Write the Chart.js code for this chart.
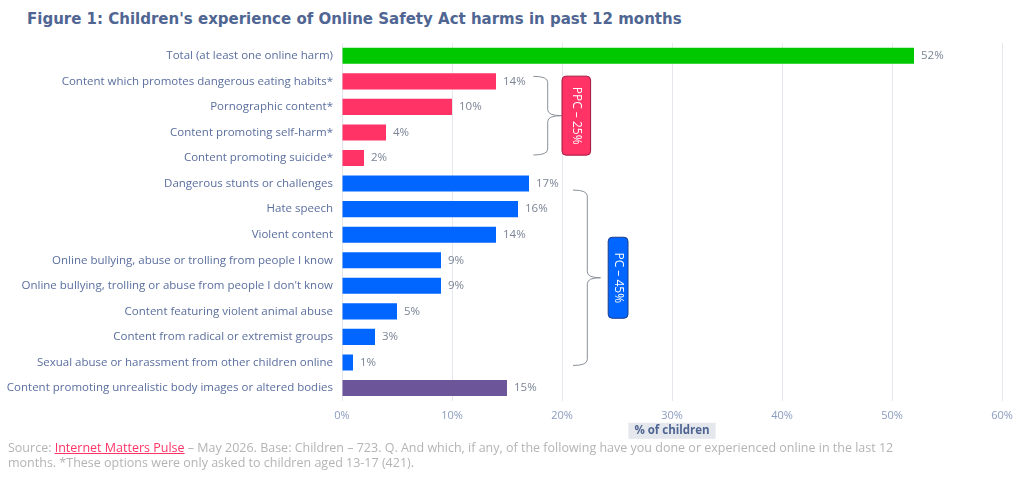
<!DOCTYPE html>
<html>
<head>
<meta charset="utf-8">
<script src="https://cdn.jsdelivr.net/npm/chart.js@4"></script>
<style>
  body { margin: 0; background: #fff; width: 1024px; height: 481px; overflow: hidden; position: relative; }
  #title { position: absolute; left: 27px; top: 10px; font: bold 15px "DejaVu Sans", sans-serif; color: #4f6592; white-space: nowrap; }
  #wrap { position: absolute; left: 0; top: 0; width: 1024px; height: 481px; }
  #source { position: absolute; left: 8px; top: 440px; font: 12.5px "Open Sans", sans-serif; color: #b4b4b4; line-height: 15px; white-space: nowrap; }
  #source a { color: #ff3366; text-decoration: underline; }
</style>
</head>
<body>
<div id="title">Figure 1: Children's experience of Online Safety Act harms in past 12 months</div>
<div id="wrap"><canvas id="harms"></canvas></div>
<div id="source">Source: <a>Internet Matters Pulse</a> – May 2026. Base: Children – 723. Q. And which, if any, of the following have you done or experienced online in the last 12<br>months. *These options were only asked to children aged 13-17 (421).</div>
<script>
/* --------------- Data --------------------- */
const categories = [
  "Total (at least one online harm)",
  "Content which promotes dangerous eating habits*",
  "Pornographic content*",
  "Content promoting self-harm*",
  "Content promoting suicide*",
  "Dangerous stunts or challenges",
  "Hate speech",
  "Violent content",
  "Online bullying, abuse or trolling from people I know",
  "Online bullying, trolling or abuse from people I don't know",
  "Content featuring violent animal abuse",
  "Content from radical or extremist groups",
  "Sexual abuse or harassment from other children online",
  "Content promoting unrealistic body images or altered bodies",
];
const values = [52, 14, 10, 4, 2, 17, 16, 14, 9, 9, 5, 3, 1, 15];
const groups = ["total", "ppc", "ppc", "ppc", "ppc", "pc", "pc", "pc", "pc", "pc", "pc", "pc", "pc", "body"];
const xTicks = [0, 10, 20, 30, 40, 50, 60];
// bracketed groups: first row, last row, label
const braces = [
  { from: 1, to: 4, label: "PPC – 25%" },
  { from: 5, to: 12, label: "PC – 45%" },
];

/* --------------- Styles --------------------- */
const groupColors = { total: "#00c800", ppc: "#ff3366", pc: "#0066ff", body: "#6c5598" };
const braceStyle = [
  { xL: 17.4, xM: 18.7, xR: 19.95, top: -5, bot: -3, boxL: 20.0, boxR: 22.6, boxH: 79, fill: "#ff3366", stroke: "#a3173f" },
  { xL: 21.0, xM: 22.3, xR: 23.5, top: 6.5, bot: 3, boxL: 24.2, boxR: 26.0, boxH: 81, fill: "#0066ff", stroke: "#1a3c8a" },
];

/* --------------- Extras drawn on top --------------------- */
const extras = {
  id: "extras",
  afterDatasetsDraw(chart) {
    const ctx = chart.ctx;
    const x = chart.scales.x, y = chart.scales.y;
    ctx.save();
    // value labels
    ctx.font = '11.5px "Open Sans", sans-serif';
    ctx.fillStyle = "#7b8496";
    ctx.textBaseline = "middle";
    ctx.textAlign = "left";
    chart.getDatasetMeta(0).data.forEach((bar, i) => {
      ctx.fillText(values[i] + "%", bar.x + 7, bar.y);
    });
    // braces and boxes
    braces.forEach((b, i) => {
      const s = braceStyle[i];
      const xL = x.getPixelForValue(s.xL), xM = x.getPixelForValue(s.xM), xR = x.getPixelForValue(s.xR);
      const yT = y.getPixelForValue(b.from) + s.top, yB = y.getPixelForValue(b.to) + s.bot;
      const yM = (yT + yB) / 2, r = 6;
      ctx.beginPath();
      ctx.moveTo(xL, yT);
      ctx.quadraticCurveTo(xM, yT, xM, yT + r);
      ctx.lineTo(xM, yM - r);
      ctx.quadraticCurveTo(xM, yM, xR, yM);
      ctx.quadraticCurveTo(xM, yM, xM, yM + r);
      ctx.lineTo(xM, yB - r);
      ctx.quadraticCurveTo(xM, yB, xL, yB);
      ctx.strokeStyle = "#8a8f99";
      ctx.lineWidth = 1;
      ctx.stroke();
      const bx = x.getPixelForValue(s.boxL), bw = x.getPixelForValue(s.boxR) - bx;
      ctx.beginPath();
      ctx.roundRect(bx, yM - s.boxH / 2, bw, s.boxH, 4);
      ctx.fillStyle = s.fill;
      ctx.fill();
      ctx.strokeStyle = s.stroke;
      ctx.stroke();
      ctx.translate(bx + bw / 2, yM);
      ctx.rotate(Math.PI / 2);
      ctx.fillStyle = "#ffffff";
      ctx.font = '12px "Open Sans", sans-serif';
      ctx.textAlign = "center";
      ctx.fillText(b.label, 0, 0);
      ctx.setTransform(1, 0, 0, 1, 0, 0);
      ctx.scale(chart.currentDevicePixelRatio, chart.currentDevicePixelRatio);
    });
    // x axis title with grey box
    const cx = (chart.chartArea.left + chart.chartArea.right) / 2;
    const ty = chart.chartArea.bottom + 30;
    ctx.font = 'bold 11.5px "Open Sans", sans-serif';
    const tw = ctx.measureText("% of children").width;
    ctx.fillStyle = "#e4e7ec";
    ctx.fillRect(cx - tw / 2 - 6, ty - 8, tw + 12, 16);
    ctx.fillStyle = "#4f6592";
    ctx.textAlign = "center";
    ctx.fillText("% of children", cx, ty);
    ctx.restore();
  },
};

/* --------------- Chart --------------------- */
new Chart(document.getElementById("harms"), {
  type: "bar",
  plugins: [extras],
  data: {
    labels: categories,
    datasets: [{
      data: values,
      backgroundColor: groups.map((g) => groupColors[g]),
      barPercentage: 0.63,
      categoryPercentage: 1,
    }],
  },
  options: {
    indexAxis: "y",
    responsive: true,
    maintainAspectRatio: false,
    animation: false,
    layout: { padding: { top: 43, left: 0, right: 22, bottom: 51 } },
    plugins: { legend: { display: false }, tooltip: { enabled: false } },
    scales: {
      x: {
        min: 0,
        max: 60,
        afterBuildTicks: (axis) => { axis.ticks = xTicks.map((v) => ({ value: v })); },
        grid: { color: "#e6e8ee", drawTicks: false },
        border: { display: false },
        ticks: { padding: 8, color: "#8a9cc0", font: { family: "Open Sans", size: 11 }, callback: (v) => v + "%" },
      },
      y: {
        grid: { display: false },
        border: { display: false },
        afterFit: (axis) => { axis.width = 342; },
        ticks: { padding: 1, color: "#5a6e9e", font: { family: "Open Sans", size: 11.5 } },
      },
    },
  },
});
</script>
</body>
</html>
